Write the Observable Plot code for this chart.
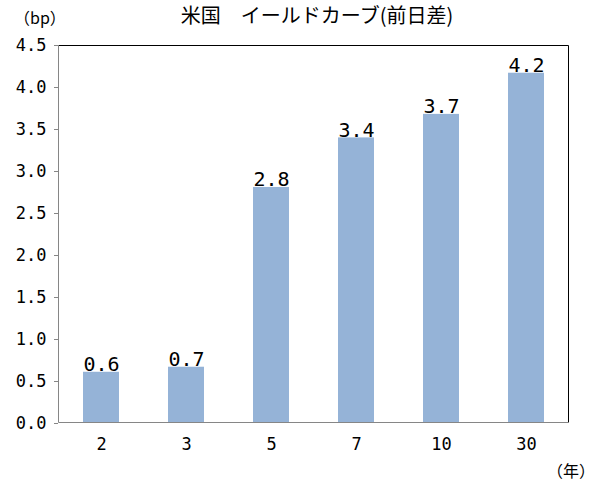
<!DOCTYPE html>
<html>
<head>
<meta charset="utf-8">
<script src="https://cdn.jsdelivr.net/npm/d3@7"></script>
<script src="https://cdn.jsdelivr.net/npm/@observablehq/plot@0.6"></script>
<style>
  body { margin: 0; background: #fff; }
  #wrap { position: relative; width: 612px; height: 487px; background: #fff; overflow: hidden; }
  .lbl { position: absolute; font-family: "Noto Sans CJK JP", sans-serif; color: #000; white-space: nowrap; line-height: 1; z-index: 2; }
  #chart { position: absolute; left: 0; top: 30px; z-index: 1; }
</style>
</head>
<body>
<div id="wrap">
  <div id="chart"></div>
  <div class="lbl" id="title" style="left:0; width:634px; text-align:center; top:5px; font-size:20px;"></div>
  <div class="lbl" id="yunit" style="left:14px; top:9px; font-size:16px;"></div>
  <div class="lbl" id="xunit" style="left:547px; top:462px; font-size:16px;"></div>
</div>
<script>
const titleText = "米国　イールドカーブ(前日差)";
const yUnit = "（bp）";
const xUnit = "（年）";
const maturities = ["2", "3", "5", "7", "10", "30"];
const changes = [0.61, 0.67, 2.81, 3.40, 3.68, 4.17];
const yTicks = [0, 0.5, 1, 1.5, 2, 2.5, 3, 3.5, 4, 4.5];

document.getElementById("title").textContent = titleText;
document.getElementById("yunit").textContent = yUnit;
document.getElementById("xunit").textContent = xUnit;

const data = maturities.map((m, i) => ({maturity: m, value: changes[i]}));
const fmt = d3.format(".1f");
const mono = "'DejaVu Sans Mono', 'Liberation Mono', monospace";

const frameLines = (index, scales, values, dims) => {
  const g = d3.create("svg:g");
  const l = dims.marginLeft, r = dims.width - dims.marginRight;
  const t = dims.marginTop, b = dims.height - dims.marginBottom;
  g.append("path").attr("d", `M${l},${t + 0.5}H${r - 0.5}V${b}`).attr("stroke", "#000").attr("fill", "none");
  g.append("path").attr("d", `M${l + 0.5},${t}V${b - 0.5}H${r}`).attr("stroke", "#868686").attr("fill", "none");
  return g.node();
};

const plot = Plot.plot({
  width: 612,
  height: 457,
  marginLeft: 58,
  marginRight: 43,
  marginTop: 15,
  marginBottom: 64,
  style: {fontFamily: mono, fontSize: "17px", color: "#000", background: "transparent"},
  x: {domain: maturities, paddingInner: 0.58, paddingOuter: 0.29, align: 0.5, label: null},
  y: {domain: [0, 4.5], label: null},
  marks: [
    Plot.barY(data, {x: "maturity", y: "value", fill: "#95B3D7"}),
    frameLines,
    Plot.axisY({ticks: yTicks, tickFormat: fmt, tickSize: 4, tickPadding: 8, stroke: "#868686", fontFamily: mono, fontSize: 17, fill: "#000"}),
    Plot.axisX({tickSize: 0, tickPadding: 14, fontFamily: mono, fontSize: 17, fill: "#000"}),
    Plot.text(data, {x: "maturity", y: "value", text: d => fmt(d.value), lineAnchor: "bottom", dy: -1, fontFamily: mono, fontSize: 20, fill: "#000"})
  ]
});
document.getElementById("chart").appendChild(plot);
</script>
</body>
</html>
